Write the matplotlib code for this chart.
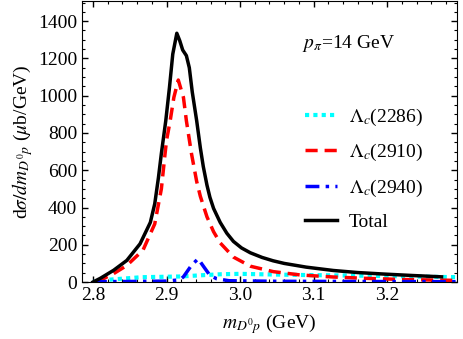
import matplotlib
matplotlib.use("Agg")
import matplotlib.pyplot as plt
import matplotlib.ticker as ticker

plt.rcParams["font.family"] = ["Liberation Serif", "DejaVu Serif"]
plt.rcParams["mathtext.fontset"] = "stix"

# Total
total_x = [2.800, 2.810, 2.828, 2.846, 2.864, 2.878, 2.884, 2.889, 2.893, 2.899,
           2.904, 2.9085, 2.914, 2.918, 2.922, 2.927, 2.931, 2.935, 2.941, 2.946,
           2.950, 2.955, 2.959, 2.964, 2.973, 2.982, 2.991, 3.002, 3.014, 3.030,
           3.045, 3.060, 3.090, 3.127, 3.160, 3.195, 3.235, 3.274]
total_y = [0, 20, 63, 116, 205, 320, 420, 560, 690, 866,
           1044, 1223, 1335, 1295, 1245, 1215, 1150, 1020, 866, 720,
           620, 520, 455, 395, 320, 262, 218, 183, 157, 132,
           114, 100, 80, 62, 51, 43, 35, 28]

# Lambda_c(2910)
red_x = [2.805, 2.810, 2.828, 2.846, 2.868, 2.884, 2.893, 2.898, 2.900, 2.905,
         2.910, 2.916, 2.923, 2.927, 2.934, 2.941, 2.946, 2.955, 2.964, 2.973,
         2.991, 3.014, 3.045, 3.082, 3.127, 3.170, 3.218, 3.260, 3.295]
red_y = [0, 10, 45, 89, 171, 312, 500, 688, 759, 866,
         991, 1084, 991, 866, 688, 540, 460, 350, 270, 210,
         134, 85, 56, 38, 27, 20, 14, 11, 9]

# Lambda_c(2940)
blue_x = [2.800, 2.850, 2.900, 2.918, 2.923, 2.934, 2.943, 2.951, 2.959, 2.968,
          2.985, 3.050, 3.150, 3.295]
blue_y = [2, 3, 5, 12, 28, 90, 125, 80, 36, 18,
          7, 4, 3, 2]

# Lambda_c(2286)
cyan_x = [2.800, 2.820, 2.866, 2.920, 2.950, 2.975, 3.000, 3.050, 3.100, 3.150,
          3.200, 3.250, 3.295]
cyan_y = [0, 12, 26, 30, 37, 42, 44, 40, 37, 35,
          32, 29, 26]

fig = plt.figure(figsize=(4.63, 3.39), dpi=100)
ax = fig.add_axes([0.177, 0.168, 0.810, 0.829])

ax.plot(cyan_x, cyan_y, color="cyan", lw=3, linestyle=(0, (1, 1)),
        label=r"$\Lambda_c$(2286)")
ax.plot(red_x, red_y, color="red", lw=2.5, linestyle=(0, (3.5, 2)),
        label=r"$\Lambda_c$(2910)")
ax.plot(blue_x, blue_y, color="blue", lw=2.5, linestyle=(0, (4, 1.8, 1, 1.8)),
        label=r"$\Lambda_c$(2940)")
ax.plot(total_x, total_y, color="black", lw=2.5, label="Total")

ax.set_xlim(2.785, 3.295)
ax.set_ylim(0, 1508)
ax.xaxis.set_major_locator(ticker.MultipleLocator(0.1))
ax.xaxis.set_minor_locator(ticker.MultipleLocator(0.02))
ax.xaxis.set_major_formatter(ticker.FormatStrFormatter("%.1f"))
ax.yaxis.set_major_locator(ticker.MultipleLocator(200))
ax.yaxis.set_minor_locator(ticker.MultipleLocator(50))
ax.tick_params(which="both", direction="in", top=True, right=True, labelsize=14)
ax.tick_params(which="major", length=4, width=1)
ax.tick_params(which="minor", length=2.5, width=0.8)

ax.set_xlabel(r"$m_{D^0p}$ (GeV)", fontsize=14, labelpad=6)
ax.set_ylabel(r"d$\sigma/dm_{D^0p}$ ($\mu$b/GeV)", fontsize=14, labelpad=2)

ax.text(0.587, 0.85, r"$p_\pi$=14 GeV", transform=ax.transAxes,
        fontsize=14, va="center", ha="left")

ax.legend(loc="upper left", bbox_to_anchor=(0.595, 0.625), frameon=False,
          fontsize=14, handlelength=1.65, handletextpad=0.6, labelspacing=0.75,
          borderpad=0, borderaxespad=0)

fig.savefig("out.png", dpi=100)
